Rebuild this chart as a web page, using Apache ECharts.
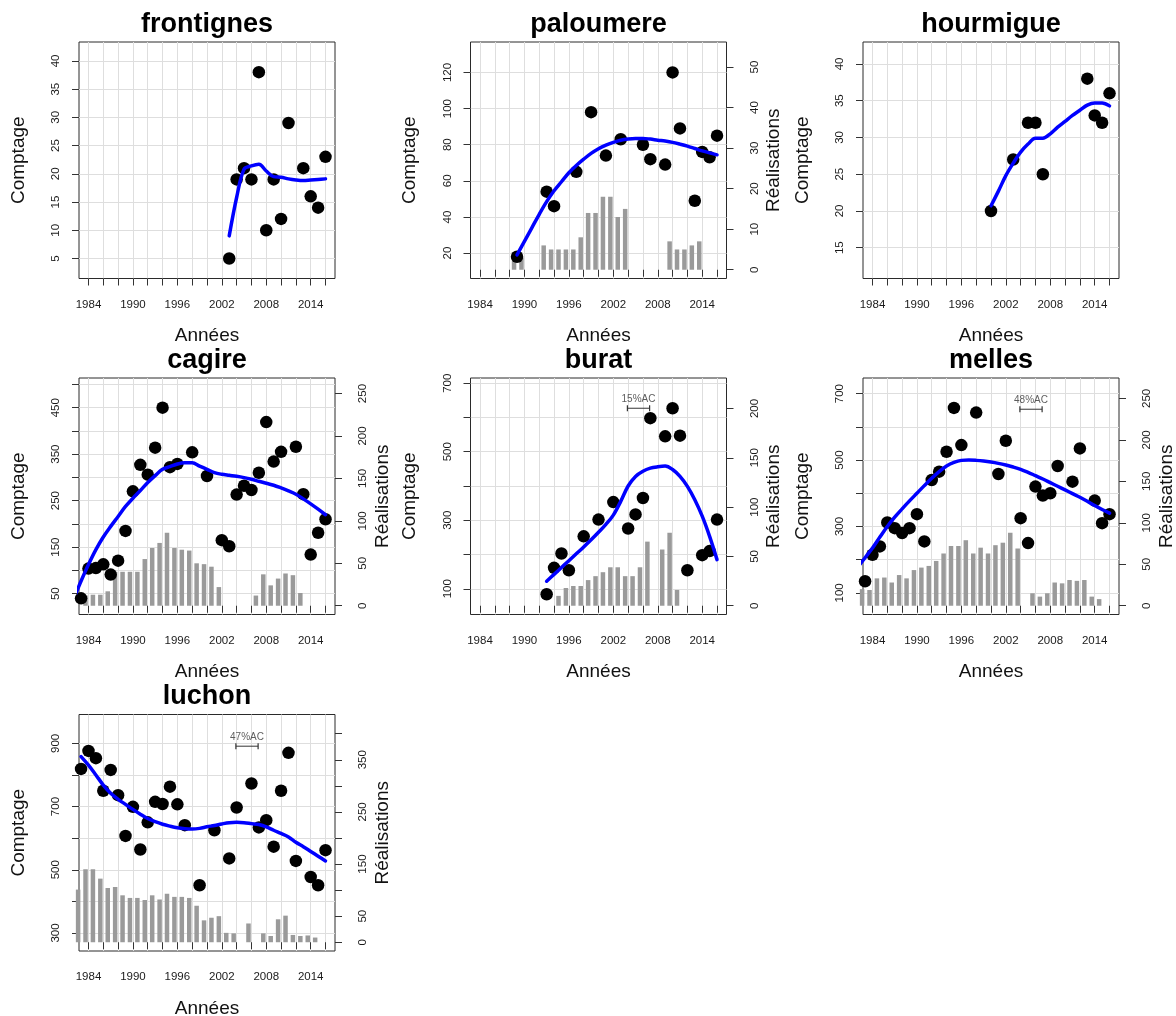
<!DOCTYPE html>
<html>
<head>
<meta charset="utf-8">
<script src="https://cdn.jsdelivr.net/npm/echarts@6/dist/echarts.min.js"></script>
<style>
html,body{margin:0;padding:0;background:#ffffff;}
#chart{width:1176px;height:1016px;}
</style>
</head>
<body>
<div id="chart"></div>
<script>
// ---------------- DATA ----------------
const xTickValues = [1984,1986,1988,1990,1992,1994,1996,1998,2000,2002,2004,2006,2008,2010,2012,2014,2016];
const xLabelValues = [1984,1990,1996,2002,2008,2014];

// frontignes
const frontignesYears = [2003,2004,2005,2006,2007,2008,2009,2010,2011,2013,2014,2015,2016];
const frontignesCounts = [5,19,21,19,38,10,19,12,29,21,16,14,23];
const frontignesTrendYears = [2003,2004,2005,2006,2007,2008,2009,2010,2011,2012,2013,2014,2015,2016];
const frontignesTrend = [9.0,15.8,20.8,21.4,21.7,20.5,19.5,19.4,19.1,18.9,18.8,18.9,19.0,19.1];
const frontignesYTicks = [5,10,15,20,25,30,35,40];

// paloumere
const paloumereYears = [1989,1993,1994,1997,1999,2001,2003,2006,2007,2009,2010,2011,2013,2014,2015,2016];
const paloumereCounts = [18,54,46,65,98,74,83,80,72,69,120,89,49,76,73,85];
const paloumereTrendYears = [1989,1990,1991,1992,1993,1994,1995,1996,1997,1998,1999,2000,2001,2002,2003,2004,2005,2006,2007,2008,2009,2010,2011,2012,2013,2014,2015,2016];
const paloumereTrend = [19,26.5,34,41.5,48.5,54.5,59.5,64.5,68.5,72,75.2,77.8,79.8,81.3,82.5,83.2,83.5,83.5,83.1,82.5,82,81.3,80.3,79.2,77.9,76.6,75.5,74.4];
const paloumereBarYears = [1988,1989,1992,1993,1994,1995,1996,1997,1998,1999,2000,2001,2002,2003,2009,2010,2011,2012,2013];
const paloumereBars = [3,3,6,5,5,5,5,8,14,14,18,18,13,15,7,5,5,6,7];
const paloumereYTicks = [20,40,60,80,100,120];
const paloumereRTicks = [0,10,20,30,40,50];

// hourmigue
const hourmigueYears = [2000,2003,2005,2006,2007,2013,2014,2015,2016];
const hourmigueCounts = [20,27,32,32,25,38,33,32,36];
const hourmigueTrendYears = [2000,2001,2002,2003,2004,2005,2006,2007,2008,2009,2010,2011,2012,2013,2014,2015,2016];
const hourmigueTrend = [20.7,22.7,24.8,26.5,28.0,29.1,29.9,29.9,30.5,31.4,32.2,33.0,33.7,34.4,34.7,34.7,34.3];
const hourmigueYTicks = [15,20,25,30,35,40];

// cagire
const cagireYears = [1983,1984,1985,1986,1987,1988,1989,1990,1991,1992,1993,1994,1995,1996,1998,2000,2002,2003,2004,2005,2006,2007,2008,2009,2010,2012,2013,2014,2015,2016];
const cagireCounts = [40,104,105,113,91,121,185,270,327,306,364,450,322,329,354,303,165,152,263,282,273,310,419,334,355,366,264,134,181,210];
const cagireTrendYears = [1982,1983,1984,1985,1986,1987,1988,1989,1990,1991,1992,1993,1994,1995,1996,1997,1998,1999,2000,2001,2002,2003,2004,2005,2006,2007,2008,2009,2010,2011,2012,2013,2014,2015,2016];
const cagireTrend = [39,77.1,112.7,144.8,171.9,194.7,216.1,237.5,255.3,271.7,288.9,303.8,317.4,323.1,328.8,331.6,331.6,324.5,317.4,310.3,306.7,304.5,302.4,299.6,296,291.7,287.4,283.2,277.4,271,263.9,253.9,243.2,231.8,219.7];
const cagireBarYears = [1983,1984,1985,1986,1987,1988,1989,1990,1991,1992,1993,1994,1995,1996,1997,1998,1999,2000,2001,2006,2007,2008,2009,2010,2011,2012];
const cagireBars = [12,13,13,17,40,40,40,40,55,68,74,86,68,66,65,50,49,46,22,12,37,24,32,38,36,15];
const cagireYTicks = [50,100,150,200,250,300,350,400,450,500];
const cagireYLabels = [50,150,250,350,450];
const cagireRTicks = [0,50,100,150,200,250];

// burat
const buratYears = [1993,1994,1995,1996,1998,2000,2002,2004,2005,2006,2007,2009,2010,2011,2012,2014,2015,2016];
const buratCounts = [84,161,203,154,253,302,353,276,317,365,598,545,627,547,154,198,210,302];
const buratTrendYears = [1993,1994,1995,1996,1997,1998,1999,2000,2001,2002,2003,2004,2005,2006,2007,2008,2009,2010,2011,2012,2013,2014,2015,2016];
const buratTrend = [122,142,162,182,202,222,243,265,288,315,355,400,428,443,452,456,458,448,428,399,360,312,253,185];
const buratBarYears = [1994,1995,1996,1997,1998,1999,2000,2001,2002,2003,2004,2005,2006,2008,2009,2010];
const buratBars = [10,18,20,20,26,30,34,39,39,30,30,39,65,57,74,16];
const buratYTicks = [100,200,300,400,500,600,700];
const buratYLabels = [100,300,500,700];
const buratRTicks = [0,50,100,150,200];

// melles
const mellesYears = [1983,1984,1985,1986,1987,1988,1989,1990,1991,1992,1993,1994,1995,1996,1998,2001,2002,2004,2005,2006,2007,2008,2009,2011,2012,2014,2015,2016];
const mellesCounts = [135,215,240,312,295,280,295,337,255,440,465,525,657,545,643,458,558,325,250,420,393,400,482,435,535,378,310,337];
const mellesTrendYears = [1982,1983,1984,1985,1986,1987,1988,1989,1990,1991,1992,1993,1994,1995,1996,1997,1998,1999,2000,2001,2002,2003,2004,2005,2006,2007,2008,2009,2010,2011,2012,2013,2014,2015,2016];
const mellesTrend = [177,206,235,268,300,328,353,377,400,423,445,465,482,493,499,500,499,497,494,490,485,479,472,463,453,443,432,421,410,399,388,376,363,351,340];
const mellesBarYears = [1982,1983,1984,1985,1986,1987,1988,1989,1990,1991,1992,1993,1994,1995,1996,1997,1998,1999,2000,2001,2002,2003,2005,2006,2007,2008,2009,2010,2011,2012,2013,2014];
const mellesBars = [20,19,33,34,28,37,33,43,46,48,54,63,72,72,79,63,70,63,73,76,88,69,15,11,15,28,27,31,30,31,11,8];
const mellesYTicks = [100,200,300,400,500,600,700];
const mellesYLabels = [100,300,500,700];
const mellesRTicks = [0,50,100,150,200,250];

// luchon
const luchonYears = [1983,1984,1985,1986,1987,1988,1989,1990,1991,1992,1993,1994,1995,1996,1997,1999,2001,2003,2004,2006,2007,2008,2009,2010,2011,2012,2014,2015,2016];
const luchonCounts = [819,876,853,750,816,736,607,699,564,650,715,708,763,707,641,451,625,536,697,773,634,657,573,750,870,528,477,451,562];
const luchonTrendYears = [1983,1984,1985,1986,1987,1988,1989,1990,1991,1992,1993,1994,1995,1996,1997,1998,1999,2000,2001,2002,2003,2004,2005,2006,2007,2008,2009,2010,2011,2012,2013,2014,2015,2016];
const luchonTrend = [858,831,800,768,742,723,707,691,676,662,652,644,638,633,630,629,631,636,640,645,649,650,649,646,643,636,625,615,604,587,573,558,543,528];
const luchonBarYears = [1982,1983,1984,1985,1986,1987,1988,1989,1990,1991,1992,1993,1994,1995,1996,1997,1998,1999,2000,2001,2002,2003,2005,2007,2008,2009,2010,2011,2012,2013,2014];
const luchonBars = [101,140,140,122,104,106,90,85,85,81,90,82,93,87,87,85,70,42,47,50,18,17,36,17,12,44,51,14,12,13,9];
const luchonYTicks = [300,400,500,600,700,800,900];
const luchonYLabels = [300,500,700,900];
const luchonRTicks = [0,50,100,150,200,250,300,350,400];
const luchonRLabels = [0,50,150,250,350];

// AC annotations: [start year, end year], level, text
const buratAC = {span:[2003.9,2006.9], level:627, text:'15%AC'};
const mellesAC = {span:[2003.9,2006.9], level:653, text:'48%AC'};
const luchonAC = {span:[2003.9,2006.9], level:891, text:'47%AC'};

// ---------------- LAYOUT / STYLE ----------------
const FONT = "'Liberation Sans', Arial, Helvetica, sans-serif";
const XMIN = 1982.72, XMAX = 2017.28;
const BAR_SHIFT = 0.6;
const COL_LEFT = [79, 470.5, 863];
const ROW_TOP = [42, 378, 714.5];
const BOX_W = 256, BOX_H = 236.5;

const panels = [
  {name:'frontignes', row:0, col:0, years:frontignesYears, counts:frontignesCounts, tY:frontignesTrendYears, t:frontignesTrend,
   yRange:[1.45,43.35], yStep:5, yTicks:frontignesYTicks, yLabels:frontignesYTicks},
  {name:'paloumere', row:0, col:1, years:paloumereYears, counts:paloumereCounts, tY:paloumereTrendYears, t:paloumereTrend,
   yRange:[5.95,136.85], yStep:20, yTicks:paloumereYTicks, yLabels:paloumereYTicks,
   bY:paloumereBarYears, b:paloumereBars, rRange:[-2.16,56.16], rStep:10, rTicks:paloumereRTicks, rLabels:paloumereRTicks},
  {name:'hourmigue', row:0, col:2, years:hourmigueYears, counts:hourmigueCounts, tY:hourmigueTrendYears, t:hourmigueTrend,
   yRange:[10.81,42.99], yStep:5, yTicks:hourmigueYTicks, yLabels:hourmigueYTicks},
  {name:'cagire', row:1, col:0, years:cagireYears, counts:cagireCounts, tY:cagireTrendYears, t:cagireTrend,
   yRange:[5.16,513.84], yStep:50, yTicks:cagireYTicks, yLabels:cagireYLabels,
   bY:cagireBarYears, b:cagireBars, rRange:[-10.32,268.32], rStep:50, rTicks:cagireRTicks, rLabels:cagireRTicks},
  {name:'burat', row:1, col:1, years:buratYears, counts:buratCounts, tY:buratTrendYears, t:buratTrend,
   yRange:[24.83,715.27], yStep:100, yTicks:buratYTicks, yLabels:buratYLabels,
   bY:buratBarYears, b:buratBars, rRange:[-8.88,230.88], rStep:50, rTicks:buratRTicks, rLabels:buratRTicks, ac:buratAC},
  {name:'melles', row:1, col:2, years:mellesYears, counts:mellesCounts, tY:mellesTrendYears, t:mellesTrend,
   yRange:[35,747], yStep:100, yTicks:mellesYTicks, yLabels:mellesYLabels,
   bY:mellesBarYears, b:mellesBars, rRange:[-10.56,274.56], rStep:50, rTicks:mellesRTicks, rLabels:mellesRTicks, ac:mellesAC},
  {name:'luchon', row:2, col:0, years:luchonYears, counts:luchonCounts, tY:luchonTrendYears, t:luchonTrend,
   yRange:[242.9,991.3], yStep:100, yTicks:luchonYTicks, yLabels:luchonYLabels,
   bY:luchonBarYears, b:luchonBars, rRange:[-16.8,436.8], rStep:50, rTicks:luchonRTicks, rLabels:luchonRLabels, ac:luchonAC}
];

const zip = (xs, ys, dx) => xs.map((x, k) => [x + (dx || 0), ys[k]]);
const plain = v => String(Math.round(v));

const option = {
  animation:false,
  backgroundColor:'#ffffff',
  textStyle:{fontFamily:FONT},
  title:[], grid:[], xAxis:[], yAxis:[], series:[]
};

const tickStyle = {color:'#333333', width:1};
const labelStyle = {fontSize:11.5, color:'#1a1a1a', fontFamily:FONT, formatter:plain};
const nameStyle = {fontSize:19, color:'#111111', fontFamily:FONT};
const gridLine = {show:true, lineStyle:{color:'#dedede', width:1, type:'solid'}};

panels.forEach((p, i) => {
  const left = COL_LEFT[p.col], top = ROW_TOP[p.row];
  option.grid.push({left:left, top:top, width:BOX_W, height:BOX_H, show:true,
    borderColor:'#2a2a2a', borderWidth:1, backgroundColor:'rgba(0,0,0,0)', containLabel:false, outerBoundsMode:'none'});
  option.title.push({text:p.name, left:left + BOX_W/2, top:top - 31, textAlign:'center', padding:0,
    textStyle:{fontSize:27, fontWeight:'bold', color:'#000000', fontFamily:FONT}});
  option.xAxis.push({type:'value', gridIndex:i, min:XMIN, max:XMAX, minInterval:2, maxInterval:2,
    axisLine:{show:false},
    axisTick:{show:true, length:7, customValues:xTickValues, lineStyle:tickStyle},
    axisLabel:{show:true, customValues:xLabelValues, margin:20, ...labelStyle},
    splitLine:gridLine,
    name:'Années', nameLocation:'middle', nameGap:48, nameTextStyle:nameStyle, nameMoveOverlap:false});
  const yi = option.yAxis.length;
  option.yAxis.push({type:'value', gridIndex:i, position:'left', min:p.yRange[0], max:p.yRange[1],
    minInterval:p.yStep, maxInterval:p.yStep,
    axisLine:{show:false},
    axisTick:{show:true, length:7, customValues:p.yTicks, lineStyle:tickStyle},
    axisLabel:{show:true, customValues:p.yLabels, rotate:90, margin:17, ...labelStyle},
    splitLine:gridLine,
    name:'Comptage', nameLocation:'middle', nameRotate:90, nameGap:51, nameTextStyle:nameStyle, nameMoveOverlap:false});
  let ri = null;
  if (p.b) {
    ri = option.yAxis.length;
    option.yAxis.push({type:'value', gridIndex:i, position:'right', min:p.rRange[0], max:p.rRange[1],
      minInterval:p.rStep, maxInterval:p.rStep,
      axisLine:{show:false},
      axisTick:{show:true, length:7, customValues:p.rTicks, lineStyle:tickStyle},
      axisLabel:{show:true, customValues:p.rLabels, rotate:90, margin:22, ...labelStyle},
      splitLine:{show:false},
      name:'Réalisations', nameLocation:'middle', nameRotate:90, nameGap:38, nameTextStyle:nameStyle, nameMoveOverlap:false});
    option.series.push({type:'bar', name:p.name + ' réalisations', xAxisIndex:i, yAxisIndex:ri,
      data:zip(p.bY, p.b, BAR_SHIFT), barWidth:4.5, clip:false, silent:true, z:1,
      itemStyle:{color:'#9a9a9a'}});
  }
  option.series.push({type:'scatter', name:p.name, xAxisIndex:i, yAxisIndex:yi,
    data:zip(p.years, p.counts), symbol:'circle', symbolSize:12.5, silent:true, z:3,
    itemStyle:{color:'#000000', opacity:1}});
  option.series.push({type:'line', name:p.name + ' tendance', xAxisIndex:i, yAxisIndex:yi,
    data:zip(p.tY, p.t), showSymbol:false, symbol:'none', smooth:0.35, clip:true, silent:true, z:4,
    lineStyle:{color:'#0000ff', width:3.5, cap:'round', join:'round'}});
  if (p.ac) {
    option.series.push({type:'line', name:p.name + ' AC', xAxisIndex:i, yAxisIndex:yi,
      data:[[p.ac.span[0], p.ac.level],[p.ac.span[1], p.ac.level]],
      symbol:'rect', symbolSize:[1.2,6], showSymbol:true, silent:true, z:5,
      itemStyle:{color:'#333333'}, lineStyle:{color:'#333333', width:1}});
    option.series.push({type:'scatter', name:p.name + ' AC texte', xAxisIndex:i, yAxisIndex:yi,
      data:[[(p.ac.span[0] + p.ac.span[1]) / 2, p.ac.level]], symbolSize:0, silent:true, z:5,
      label:{show:true, position:'top', distance:4, formatter:p.ac.text, fontSize:10, color:'#333333', fontFamily:FONT}});
  }
});

const chart = echarts.init(document.getElementById('chart'), null, {renderer:'canvas'});
chart.setOption(option);
</script>
</body>
</html>
